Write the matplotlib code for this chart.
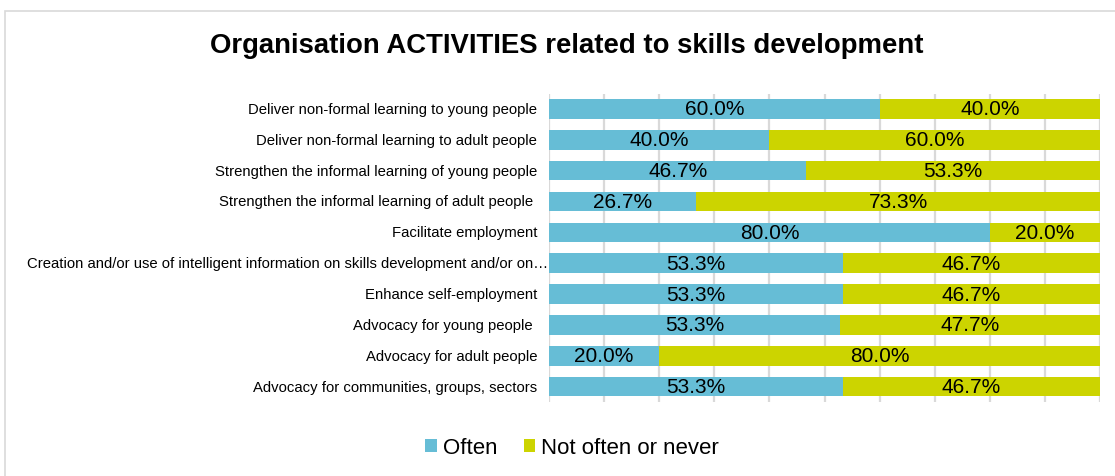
import matplotlib
matplotlib.use("Agg")
import matplotlib.pyplot as plt
from matplotlib.patches import Rectangle
import matplotlib.transforms as mtransforms
import numpy as np

plt.rcParams['font.family'] = ['Liberation Sans', 'DejaVu Sans']

categories = [
    "Deliver non-formal learning to young people",
    "Deliver non-formal learning to adult people",
    "Strengthen the informal learning of young people",
    "Strengthen the informal learning of adult people ",
    "Facilitate employment",
    "Creation and/or use of intelligent information on skills development and/or on\u2026",
    "Enhance self-employment",
    "Advocacy for young people ",
    "Advocacy for adult people",
    "Advocacy for communities, groups, sectors",
]
often = [60.0, 40.0, 46.7, 26.7, 80.0, 53.3, 53.3, 53.3, 20.0, 53.3]
not_often = [40.0, 60.0, 53.3, 73.3, 20.0, 46.7, 46.7, 47.7, 80.0, 46.7]
series_names = ["Often", "Not often or never"]
colors = ["#66BDD6", "#CCD400"]

W, H = 1115, 477
fig = plt.figure(figsize=(W / 100, H / 100), dpi=100)
fig.patches.append(Rectangle((5 / W, -0.1), 1.2, (H - 12) / H + 0.1,
                             transform=fig.transFigure, fill=False,
                             edgecolor="#D9D9D9", linewidth=1.2))

ax = fig.add_axes([549 / W, 1 - 403 / H, (1100 - 549) / W, (403 - 94.5) / H])

often_a = np.array(often)
not_a = np.array(not_often)
total = often_a + not_a
often_n = often_a / total * 100
not_n = not_a / total * 100
y = np.arange(len(categories))

for xv in np.arange(0, 101, 10):
    ax.axvline(xv, color="#D9D9D9", linewidth=1.6, zorder=0)

b1 = ax.barh(y, often_n, height=0.635, color=colors[0], label=series_names[0], zorder=2)
b2 = ax.barh(y, not_n, left=often_n, height=0.635, color=colors[1], label=series_names[1], zorder=2)

for i in range(len(categories)):
    ax.text(often_n[i] / 2, y[i], f"{often[i]:.1f}%", ha="center", va="center",
            fontsize=15, color="black", zorder=3)
    ax.text(often_n[i] + not_n[i] / 2, y[i], f"{not_often[i]:.1f}%", ha="center",
            va="center", fontsize=15, color="black", zorder=3)

ax.set_xlim(0, 100)
ax.set_ylim(len(categories) - 0.5, -0.5)
ax.set_yticks([])
ax.set_xticks([])
for s in ax.spines.values():
    s.set_visible(False)

# category labels, right-aligned against the bars
label_tf = mtransforms.blended_transform_factory(ax.transAxes, ax.transData)
for i, cat in enumerate(categories):
    gap = 1 if cat.endswith("\u2026") else 12
    off = mtransforms.ScaledTranslation(-gap / 100, 0, fig.dpi_scale_trans)
    ax.text(0, y[i], cat, ha="right", va="center", fontsize=10.7,
            transform=label_tf + off)

fig.text(567 / W, 1 - 46 / H, "Organisation ACTIVITIES related to skills development",
         ha="center", va="center", fontsize=19.8, fontweight="bold")

fig.legend(handles=[b1, b2], labels=series_names, loc="center",
           bbox_to_anchor=(572 / W, 1 - 449 / H), ncol=2, frameon=False,
           fontsize=16, handlelength=0.5, handleheight=0.5, handletextpad=0.27,
           columnspacing=1.2)

fig.savefig("out.png", dpi=100)
